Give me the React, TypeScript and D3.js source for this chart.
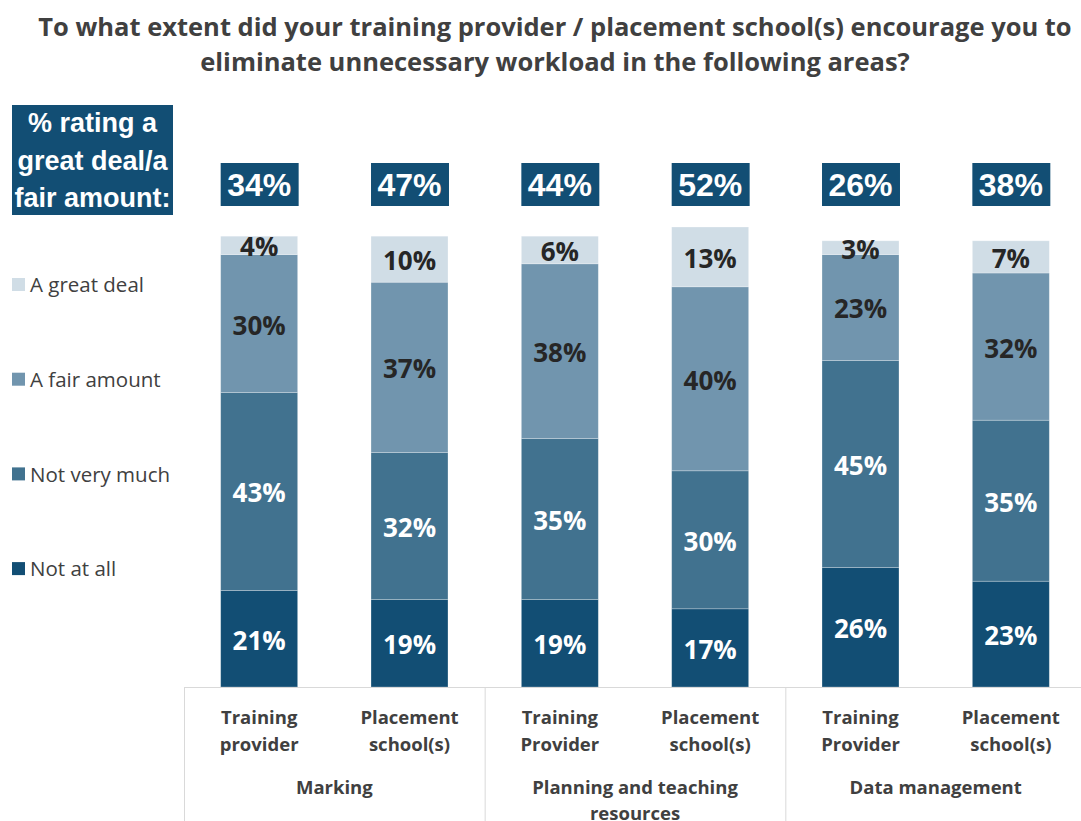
import React from 'react';
import * as d3 from 'd3';

// chart values
const seriesKeys = ['notAtAll', 'notVeryMuch', 'fairAmount', 'greatDeal'];
const seriesNames = ['Not at all', 'Not very much', 'A fair amount', 'A great deal'];
const seriesColors = ['#124e74', '#41728f', '#7195ae', '#d0dde6'];

const categoryLines = [
  ['Training', 'provider'],
  ['Placement', 'school(s)'],
  ['Training', 'Provider'],
  ['Placement', 'school(s)'],
  ['Training', 'Provider'],
  ['Placement', 'school(s)'],
];
const groupLines = [['Marking'], ['Planning and teaching', 'resources'], ['Data management']];

const notAtAll = [21, 19, 19, 17, 26, 23];
const notVeryMuch = [43, 32, 35, 30, 45, 35];
const fairAmount = [30, 37, 38, 40, 23, 32];
const greatDeal = [4, 10, 6, 13, 3, 7];
const ratingTotals = [34, 47, 44, 52, 26, 38];

const titleLines = [
  'To what extent did your training provider / placement school(s) encourage you to',
  'eliminate unnecessary workload in the following areas?',
];
const boxLines = ['% rating a', 'great deal/a', 'fair amount:'];

const FONT = '"Open Sans", "Noto Sans", sans-serif';
const ARIAL = '"Liberation Sans", Arial, sans-serif';

const App: React.FC = () => {
  const width = 1081;
  const height = 821;
  const plotLeft = 184;
  const plotRight = 1086;
  const baseY = 687;
  const topY = 227;

  const rows = notAtAll.map((_, i) => ({
    idx: i,
    notAtAll: notAtAll[i],
    notVeryMuch: notVeryMuch[i],
    fairAmount: fairAmount[i],
    greatDeal: greatDeal[i],
  }));

  const stacked = d3.stack<any>().keys(seriesKeys)(rows);

  const x = d3
    .scaleBand<number>()
    .domain(rows.map((d) => d.idx))
    .range([plotLeft, plotRight])
    .paddingInner(0.488)
    .paddingOuter(0.244);

  const y = d3.scaleLinear().domain([0, 100]).range([baseY, topY]);

  const step = x.step();
  const bw = x.bandwidth();

  return (
    <svg
      width={width}
      height={height}
      style={{ position: 'absolute', left: 0, top: 0, background: '#fff' }}
    >
      {/* title */}
      {titleLines.map((t, i) => (
        <text
          key={i}
          x={555}
          y={36 + i * 35}
          textAnchor="middle"
          fontFamily={FONT}
          fontWeight={700}
          fontSize={25.5}
          fill="#404040"
        >
          {t}
        </text>
      ))}

      {/* left label box */}
      <rect x={12} y={105} width={161} height={110} fill="#124e74" />
      {boxLines.map((t, i) => (
        <text
          key={i}
          x={92.5}
          y={132 + i * 37.5}
          textAnchor="middle"
          fontFamily={ARIAL}
          fontWeight={700}
          fontSize={27}
          fill="#fff"
        >
          {t}
        </text>
      ))}

      {/* summary boxes */}
      {ratingTotals.map((v, i) => (
        <g key={i}>
          <rect x={x(i)!} y={163} width={bw + 1} height={43} fill="#124e74" />
          <text
            x={x(i)! + bw / 2}
            y={196}
            textAnchor="middle"
            fontFamily={ARIAL}
            fontWeight={700}
            fontSize={32}
            fill="#fff"
          >
            {v}%
          </text>
        </g>
      ))}

      {/* bars */}
      {stacked.map((layer, si) => (
        <g key={layer.key}>
          {layer.map((d, i) => (
            <rect
              key={i}
              x={x(i)!}
              y={y(d[1])}
              width={bw}
              height={y(d[0]) - y(d[1])}
              fill={seriesColors[si]}
              stroke="#ffffff"
              strokeOpacity={0.35}
              strokeWidth={0.75}
            />
          ))}
        </g>
      ))}

      {/* data labels */}
      {stacked.map((layer, si) => (
        <g key={'l' + layer.key}>
          {layer.map((d, i) => (
            <text
              key={i}
              x={x(i)! + bw / 2}
              y={(y(d[0]) + y(d[1])) / 2}
              dy="0.42em"
              textAnchor="middle"
              fontFamily={FONT}
              fontWeight={700}
              fontSize={26}
              fill={si < 2 ? '#ffffff' : '#262626'}
            >
              {d[1] - d[0]}%
            </text>
          ))}
        </g>
      ))}

      {/* category axis */}
      <line x1={plotLeft} x2={width} y1={baseY + 0.5} y2={baseY + 0.5} stroke="#d9d9d9" />
      {[0, 2, 4, 6].map((k) => (
        <line
          key={k}
          x1={plotLeft + k * step + 0.5}
          x2={plotLeft + k * step + 0.5}
          y1={baseY}
          y2={height}
          stroke="#d9d9d9"
        />
      ))}
      {categoryLines.map((lines, i) =>
        lines.map((t, j) => (
          <text
            key={i + '-' + j}
            x={x(i)! + bw / 2}
            y={724 + j * 27}
            textAnchor="middle"
            fontFamily={FONT}
            fontWeight={700}
            fontSize={18.5}
            fill="#404040"
          >
            {t}
          </text>
        ))
      )}
      {groupLines.map((lines, g) =>
        lines.map((t, j) => (
          <text
            key={g + '-' + j}
            x={plotLeft + (2 * g + 1) * step}
            y={794 + j * 26}
            textAnchor="middle"
            fontFamily={FONT}
            fontWeight={700}
            fontSize={18.5}
            fill="#404040"
          >
            {t}
          </text>
        ))
      )}

      {/* legend */}
      {seriesNames
        .map((name, i) => ({ name, color: seriesColors[i] }))
        .reverse()
        .map((s, i) => (
          <g key={s.name} transform={`translate(12, ${285 + i * 94.7})`}>
            <rect x={0} y={-7} width={13} height={13} fill={s.color} />
            <text
              x={18}
              y={0}
              dy="0.35em"
              fontFamily={FONT}
              fontSize={20.5}
              fill="#404040"
            >
              {s.name}
            </text>
          </g>
        ))}
    </svg>
  );
};

export default App;
